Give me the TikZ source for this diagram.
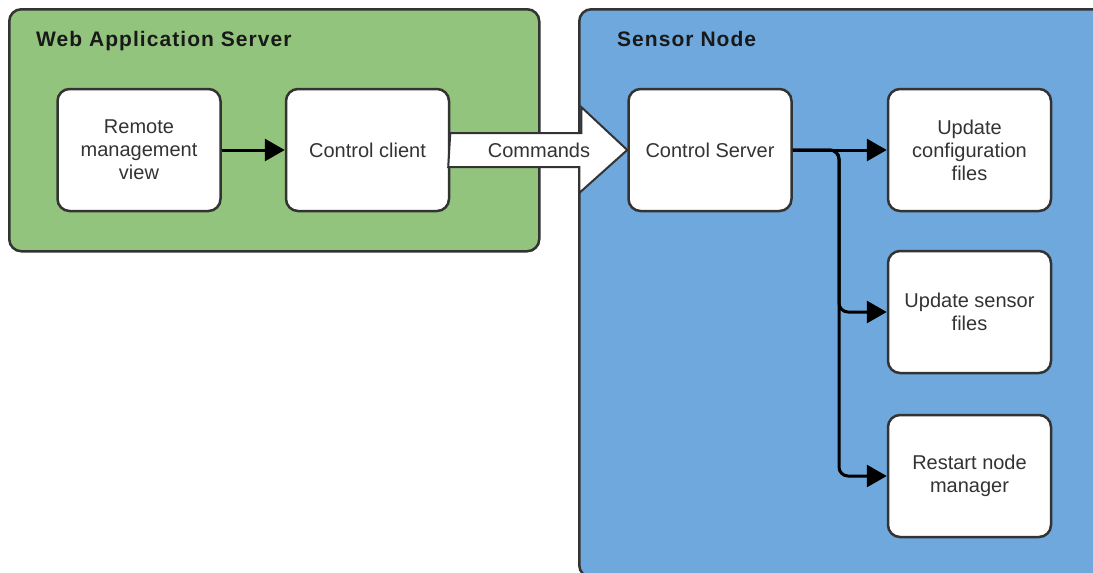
\documentclass[tikz,border=0pt]{standalone}
\usepackage{fontspec}
\setmainfont{Liberation Sans}
\newfontfamily\titlefont[LetterSpace=5]{Liberation Sans}
\usetikzlibrary{arrows.meta}

\definecolor{wasgreen}{HTML}{93C47D}
\definecolor{snblue}{HTML}{6FA8DC}
\definecolor{edgegray}{HTML}{333333}

\begin{document}
\begin{tikzpicture}[x=1pt, y=-1pt,
  group/.style={draw=edgegray, line width=2.5pt, rounded corners=12pt,
    anchor=north west, inner sep=0pt},
  box/.style={draw=edgegray, line width=2.5pt, fill=white, rounded corners=12pt,
    minimum width=163pt, minimum height=122pt, inner sep=0pt, align=center,
    text=edgegray, font=\fontsize{20}{23}\selectfont},
  grouptitle/.style={anchor=base west, text=black!90, inner sep=0pt,
    font=\titlefont\bfseries\fontsize{21}{24}\selectfont},
  flow/.style={draw=black, line width=3pt, rounded corners=9pt,
    -{Triangle[length=20pt,width=22pt]}},
  bigarrow/.style={draw=edgegray, line width=2pt, fill=white, line join=miter}]

\useasboundingbox (0,0) rectangle (1093,573);
\clip (0,0) rectangle (1093,573);

% containers
\node[group, fill=wasgreen, minimum width=530pt, minimum height=242pt] (was) at (8,8) {};
\node[group, fill=snblue, minimum width=530pt, minimum height=568pt] (sn) at (578,8) {};
\node[grouptitle] (wastitle) at (36,46) {Web Application Server};
\node[grouptitle] (sntitle) at (617,46) {Sensor Node};

% components
\node[box] (rmv) at (139,150) {Remote\\management\\view};
\node[box] (cc)  at (367.5,150) {Control client};
\node[box] (cs)  at (710,150) {Control Server};
\node[box] (ucf) at (969.5,150) {Update\\configuration\\files};
\node[box] (usf) at (969.5,312) {Update sensor\\files};
\node[box] (rnm) at (969.5,476) {Restart node\\manager};

% commands arrow between the two hosts
\draw[bigarrow] (cc.east) ++(0,-17) -- ++(131,0) -- ++(0,-26) -- (cs.west)
  -- ++(-48,43) -- ++(0,-26) -- ++(-131,0) -- cycle;
\node[text=edgegray, font=\fontsize{20}{23}\selectfont] (cmd) at (539,150) {Commands};

% connectors
\coordinate (fork) at (839,150);
\draw[flow] (rmv) -- (cc);
\draw[flow] (cs.east) -- (ucf.west);
\draw[flow] (cs.east) -- (fork) |- (usf.west);
\draw[flow] (cs.east) -- (fork) |- (rnm.west);
\end{tikzpicture}
\end{document}
